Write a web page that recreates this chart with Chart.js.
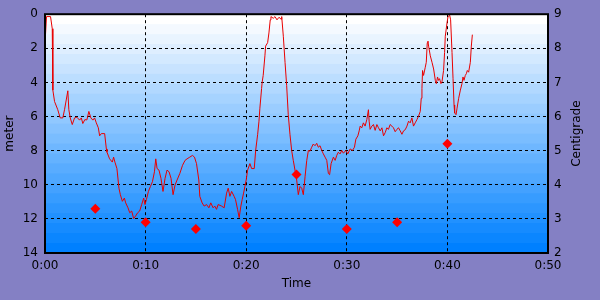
<!DOCTYPE html>
<html><head><meta charset="utf-8">
<script src="https://cdn.jsdelivr.net/npm/chart.js@4/dist/chart.umd.min.js"></script>
<style>html,body{margin:0;padding:0;background:#8480c4;overflow:hidden}#wrap{width:600px;height:300px}</style>
</head><body><div id="wrap"><canvas id="c" width="600" height="300"></canvas></div>
<script>
// depth samples: [minutes, meters]
const depthSamples = [
[0.05,1.2],[0.15,0.14],[0.55,0.14],[0.72,0.85],[0.78,4.45],[0.95,5.12],[1.27,5.6],[1.51,6.08],[1.77,6.08],[1.94,5.6],
[2.11,5.03],[2.27,4.49],[2.37,5.6],[2.51,6.08],[2.71,6.47],[2.94,6.08],[3.17,6.04],[3.44,6.21],[3.61,6.08],[3.76,6.41],
[3.96,6.18],[4.16,6.2],[4.36,5.7],[4.56,6.08],[4.76,6.21],[4.93,6.08],[5.1,6.37],[5.3,6.66],[5.43,7.13],[5.6,7.0],
[5.93,7.0],[6.1,7.9],[6.16,8.09],[6.42,8.48],[6.69,8.67],[6.82,8.38],[6.95,8.67],[7.15,9.05],[7.35,10.2],[7.49,10.58],
[7.69,10.97],[7.89,10.78],[8.02,11.06],[8.25,11.35],[8.42,11.64],[8.62,11.54],[8.81,11.98],[9.01,11.83],[9.21,11.64],[9.41,11.54],
[9.61,11.16],[9.81,10.78],[9.94,11.16],[10.08,10.87],[10.28,10.39],[10.48,10.1],[10.68,9.82],[10.88,9.24],[11.01,8.48],[11.14,9.05],
[11.33,9.14],[11.53,9.63],[11.73,10.39],[11.93,9.63],[12.13,9.14],[12.33,9.24],[12.53,9.63],[12.73,10.58],[12.93,10.01],[13.13,9.72],
[13.4,9.34],[13.67,8.86],[13.92,8.57],[14.12,8.48],[14.39,8.38],[14.66,8.28],[14.86,8.38],[15.06,8.76],[15.29,9.72],[15.39,10.68],
[15.62,11.06],[15.82,11.25],[16.06,11.16],[16.29,11.35],[16.48,11.06],[16.71,11.35],[16.88,11.25],[17.05,11.44],[17.21,11.16],[17.55,11.25],
[17.81,11.35],[18.05,10.49],[18.21,10.2],[18.38,10.68],[18.55,10.39],[18.8,10.68],[18.94,10.87],[19.14,11.44],[19.3,11.93],[19.47,11.25],
[19.6,10.87],[19.74,10.49],[19.87,10.1],[20.0,9.72],[20.14,9.14],[20.37,8.76],[20.54,9.05],[20.8,9.05],[20.94,7.99],[21.14,7.04],
[21.27,6.27],[21.36,5.51],[21.53,4.36],[21.59,3.97],[21.69,3.59],[21.86,2.44],[21.93,1.87],[22.13,1.67],[22.26,1.1],[22.39,0.33],
[22.46,0.14],[22.69,0.24],[22.86,0.14],[23.06,0.33],[23.26,0.18],[23.46,0.29],[23.53,0.14],[23.69,1.29],[23.86,2.82],[24.02,4.17],
[24.18,5.89],[24.35,7.04],[24.52,7.99],[24.68,8.57],[24.85,9.14],[25.02,9.72],[25.18,10.58],[25.35,10.1],[25.52,10.2],[25.68,10.58],
[25.85,9.53],[26.02,8.57],[26.18,7.99],[26.34,8.03],[26.51,7.8],[26.67,7.61],[26.84,7.71],[27.01,7.57],[27.17,7.8],[27.34,7.71],
[27.51,7.99],[27.67,8.19],[27.84,8.38],[28.01,8.57],[28.17,9.34],[28.29,9.41],[28.44,8.76],[28.67,8.38],[28.84,8.57],[29.0,8.28],
[29.16,8.09],[29.33,8.19],[29.5,7.99],[29.66,8.15],[29.9,7.99],[30.1,8.19],[30.33,7.9],[30.56,7.99],[30.76,7.8],[30.9,7.33],
[31.1,7.13],[31.23,6.84],[31.33,6.56],[31.49,6.66],[31.65,6.37],[31.82,6.56],[31.99,6.18],[32.15,5.6],[32.22,6.27],[32.32,6.75],
[32.49,6.56],[32.65,6.47],[32.82,6.81],[32.99,6.47],[33.15,6.66],[33.32,6.84],[33.49,6.66],[33.65,7.13],[33.82,6.94],[33.98,6.66],
[34.14,6.75],[34.31,6.47],[34.48,6.56],[34.64,6.66],[34.81,6.89],[34.98,6.75],[35.14,6.66],[35.31,6.84],[35.48,7.04],[35.64,6.84],
[35.81,6.77],[35.98,6.56],[36.14,6.27],[36.3,6.37],[36.47,6.08],[36.63,6.56],[36.8,6.37],[36.97,6.18],[37.13,5.98],[37.3,5.7],
[37.4,4.93],[37.47,4.36],[37.53,3.3],[37.63,3.59],[37.8,3.11],[37.9,2.82],[38.0,1.67],[38.07,1.58],[38.13,1.87],[38.3,2.44],
[38.47,2.82],[38.63,3.21],[38.8,3.88],[38.9,4.07],[39.02,3.68],[39.12,3.88],[39.22,3.78],[39.36,4.07],[39.46,3.97],[39.62,3.3],
[39.72,2.25],[39.79,1.29],[39.96,0.52],[40.06,0.14],[40.22,0.05],[40.32,0.33],[40.46,2.25],[40.56,3.78],[40.66,5.32],[40.72,5.79],
[40.86,5.89],[40.96,5.51],[41.12,4.93],[41.29,4.45],[41.45,4.07],[41.55,3.68],[41.65,3.88],[41.78,3.59],[41.88,3.49],[41.98,3.3],
[42.11,3.4],[42.28,2.82],[42.38,1.87],[42.48,1.2]
];
const tempTimes = [5,10,15,20,25,30,35,40];
const tempValues = [3.3,2.9,2.7,2.8,4.3,2.7,2.9,5.2];
const timeRange = [0,50];
const timeStep = 10;
const depthRange = [0,14];
const depthStep = 2;
const tempRange = [2,9];
const tempStep = 1;
const rightTitle = 'Centigrade';

const FONT = {family:'"DejaVu Sans", Verdana, sans-serif', size:12};

const bgPlugin = {
  id:'bg',
  beforeDraw(chart){
    const {ctx, chartArea:a, width, height} = chart;
    ctx.save();
    ctx.fillStyle = '#8480c4';
    ctx.fillRect(0,0,width,height);
    const bands = 24;
    const h = (a.bottom - a.top)/bands;
    for(let i=0;i<bands;i++){
      const f = i/(bands-1);
      const r = Math.round(255*(1-f)), g = Math.round(255 - 127*f);
      ctx.fillStyle = `rgb(${r},${g},255)`;
      ctx.fillRect(a.left, a.top + i*h, a.right-a.left, h+1);
    }
    ctx.restore();
  },
  afterDraw(chart){
    const {ctx, chartArea:a} = chart;
    ctx.save();
    ctx.strokeStyle = '#000';
    ctx.lineWidth = 2;
    ctx.strokeRect(a.left, a.top, a.right-a.left, a.bottom-a.top);
    // right axis title, reading bottom-to-top like the reference
    const s = chart.scales.y1;
    ctx.translate(s.right - 23, (a.top + a.bottom)/2);
    ctx.rotate(-Math.PI/2);
    ctx.font = `${FONT.size}px ${FONT.family}`;
    ctx.fillStyle = '#000';
    ctx.textAlign = 'center';
    ctx.textBaseline = 'middle';
    ctx.fillText(rightTitle, 0, 0);
    ctx.restore();
  }
};

const fmtTime = v => Math.floor(v/60) + ':' + String(v%60).padStart(2,'0');

new Chart(document.getElementById('c'), {
  type:'scatter',
  data:{
    datasets:[
      {
        label:'Depth',
        data: depthSamples.map(([t,d])=>({x:t,y:d})),
        yAxisID:'y',
        showLine:true,
        borderColor:'#e80000',
        borderWidth:1,
        pointRadius:0,
        tension:0,
        order:2
      },
      {
        label:'Temperature',
        data: tempTimes.map((t,i)=>({x:t,y:tempValues[i]})),
        yAxisID:'y1',
        showLine:false,
        pointStyle:'rectRot',
        pointRadius:5,
        backgroundColor:'#ff0000',
        borderColor:'#ff0000',
        borderWidth:0,
        order:1
      }
    ]
  },
  options:{
    responsive:false,
    animation:false,
    devicePixelRatio:1,
    layout:{padding:{top:9,left:0,right:0,bottom:0}},
    plugins:{legend:{display:false},tooltip:{enabled:false}},
    scales:{
      x:{
        type:'linear', min:timeRange[0], max:timeRange[1],
        afterFit(s){ s.height = 47; },
        ticks:{stepSize:timeStep, color:'#000', font:FONT, padding:6, maxRotation:0, callback:v=>fmtTime(v)},
        grid:{color:'#000', lineWidth:1, drawTicks:false},
        border:{display:false, dash:[3,3]},
        title:{display:true, text:'Time', color:'#000', font:FONT, padding:{top:0,bottom:9}}
      },
      y:{
        type:'linear', position:'left', reverse:true, min:depthRange[0], max:depthRange[1],
        afterFit(s){ s.width = 45; },
        ticks:{stepSize:depthStep, color:'#000', font:FONT, padding:7},
        grid:{color:'#000', lineWidth:1, drawTicks:false},
        border:{display:false, dash:[3,3]},
        title:{display:true, text:'meter', color:'#000', font:FONT, padding:{top:3,bottom:0}}
      },
      y1:{
        type:'linear', position:'right', min:tempRange[0], max:tempRange[1],
        afterFit(s){ s.width = 52; },
        ticks:{stepSize:tempStep, color:'#000', font:FONT, padding:6},
        grid:{drawOnChartArea:false, drawTicks:false},
        border:{display:false}
      }
    }
  },
  plugins:[bgPlugin]
});
</script>
</body></html>
